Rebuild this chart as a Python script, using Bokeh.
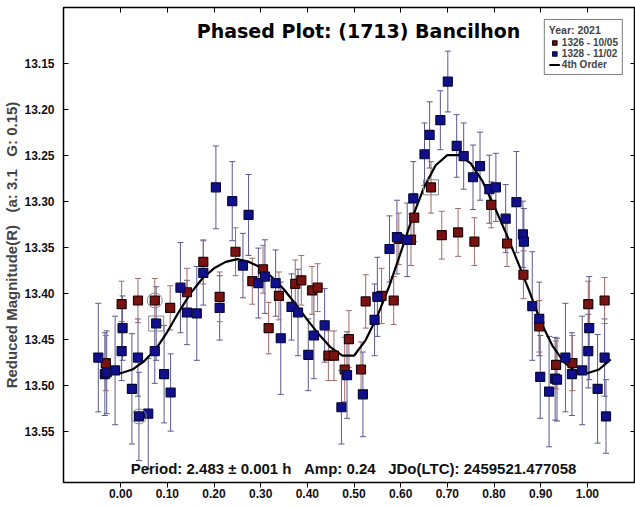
from bokeh.plotting import figure
from bokeh.models import (ColumnDataSource, Range1d, LinearAxis, FixedTicker, Whisker,
                          TeeHead, Label, Legend, LegendItem, NumeralTickFormatter)
from bokeh.embed import file_html
from bokeh.resources import INLINE

# ---- data ----
red_phase = [-0.032, 0.002, 0.037, 0.073, 0.106, 0.142, 0.177, 0.212, 0.246, 0.282,
             0.305, 0.317, 0.339, 0.374, 0.387, 0.410, 0.422, 0.445, 0.457, 0.480,
             0.489, 0.515, 0.525, 0.559, 0.585, 0.596, 0.622, 0.629, 0.665, 0.688,
             0.723, 0.758, 0.794, 0.828, 0.863, 0.897, 0.933, 0.968, 1.002, 1.037]
red_mag = [13.476, 13.412, 13.408, 13.408, 13.416, 13.399, 13.366, 13.404, 13.355, 13.387,
           13.374, 13.438, 13.403, 13.390, 13.386, 13.397, 13.394, 13.468, 13.468, 13.483,
           13.450, 13.483, 13.409, 13.403, 13.408, 13.341, 13.342, 13.318, 13.285, 13.337,
           13.334, 13.344, 13.304, 13.346, 13.380, 13.436, 13.478, 13.476, 13.412, 13.408]
red_err = [0.030, 0.025, 0.024, 0.024, 0.024, 0.026, 0.024, 0.027, 0.026, 0.025,
           0.026, 0.028, 0.026, 0.026, 0.027, 0.026, 0.026, 0.027, 0.027, 0.035,
           0.031, 0.030, 0.029, 0.030, 0.026, 0.028, 0.028, 0.026, 0.028, 0.026,
           0.026, 0.026, 0.025, 0.025, 0.026, 0.028, 0.026, 0.030, 0.025, 0.025]

blue_phase = [-0.048, -0.034, -0.030, -0.012, 0.002, 0.004, 0.024, 0.037, 0.039, 0.059,
              0.076, 0.073, 0.093, 0.107, 0.128, 0.142, 0.163, 0.177, 0.204, 0.212,
              0.239, 0.262, 0.274, 0.295, 0.309, 0.332, 0.343, 0.366, 0.380, 0.402,
              0.414, 0.437, 0.473, 0.485, 0.519, 0.544, 0.550, 0.576, 0.592, 0.614,
              0.627, 0.651, 0.662, 0.685, 0.701, 0.720, 0.735, 0.755, 0.770, 0.790,
              0.804, 0.825, 0.848, 0.862, 0.864, 0.882, 0.897, 0.899, 0.918, 0.931,
              0.935, 0.953, 0.967, 0.989, 1.004, 1.002, 1.022, 1.037, 1.040]
blue_mag = [13.470, 13.488, 13.486, 13.484, 13.463, 13.438, 13.504, 13.470, 13.534, 13.531,
            13.433, 13.463, 13.488, 13.508, 13.394, 13.421, 13.422, 13.378, 13.285, 13.416,
            13.300, 13.370, 13.315, 13.389, 13.382, 13.389, 13.449, 13.415, 13.421, 13.467,
            13.446, 13.435, 13.524, 13.489, 13.510, 13.429, 13.404, 13.352, 13.339, 13.342,
            13.297, 13.249, 13.228, 13.212, 13.170, 13.240, 13.251, 13.274, 13.262, 13.287,
            13.285, 13.319, 13.301, 13.336, 13.344, 13.414, 13.428, 13.491, 13.507, 13.493,
            13.494, 13.470, 13.488, 13.484, 13.438, 13.463, 13.504, 13.470, 13.534]
blue_err = [0.059, 0.045, 0.045, 0.059, 0.032, 0.035, 0.060, 0.042, 0.048, 0.060,
            0.040, 0.035, 0.053, 0.042, 0.049, 0.035, 0.051, 0.035, 0.045, 0.035,
            0.043, 0.035, 0.044, 0.038, 0.040, 0.036, 0.061, 0.036, 0.047, 0.039,
            0.047, 0.040, 0.040, 0.047, 0.046, 0.039, 0.043, 0.036, 0.040, 0.040,
            0.040, 0.034, 0.036, 0.032, 0.033, 0.034, 0.036, 0.035, 0.037, 0.037,
            0.037, 0.037, 0.055, 0.036, 0.036, 0.059, 0.040, 0.045, 0.060, 0.045,
            0.045, 0.059, 0.045, 0.059, 0.056, 0.040, 0.059, 0.042, 0.040]

# highlighted points (indices into the series)
red_circled = [3]
red_boxed = [28]
blue_circled = [8]
blue_boxed = [10]

fit_phase = [-0.02, 0.000, 0.025, 0.050, 0.075, 0.100, 0.125, 0.150, 0.175, 0.200,
             0.225, 0.250, 0.275, 0.300, 0.325, 0.350, 0.375, 0.400, 0.425, 0.450,
             0.475, 0.500, 0.525, 0.550, 0.575, 0.600, 0.625, 0.650, 0.675, 0.700,
             0.725, 0.750, 0.775, 0.800, 0.825, 0.850, 0.875, 0.900, 0.925, 0.950,
             0.975, 1.000, 1.025, 1.050]
fit_mag = [13.488, 13.487, 13.483, 13.474, 13.461, 13.442, 13.420, 13.400, 13.384, 13.373,
           13.366, 13.363, 13.366, 13.372, 13.383, 13.396, 13.412, 13.429, 13.445, 13.459,
           13.468, 13.468, 13.451, 13.425, 13.393, 13.356, 13.318, 13.285, 13.261, 13.250,
           13.250, 13.259, 13.278, 13.305, 13.334, 13.365, 13.397, 13.431, 13.457, 13.475,
           13.485, 13.487, 13.483, 13.472]

x_ticks = [0.0, 0.1, 0.2, 0.3, 0.4, 0.5, 0.6, 0.7, 0.8, 0.9, 1.0]
y_ticks = [13.15, 13.20, 13.25, 13.30, 13.35, 13.40, 13.45, 13.50, 13.55]

NB = "\u00a0"
title_text = "Phased Plot: (1713) Bancilhon"
info_text = "Period: 2.483 \u00b1 0.001 h" + NB * 3 + "Amp: 0.24" + NB * 3 + "JDo(LTC): 2459521.477058"
y_title = "Reduced Magnitude(R)" + NB * 3 + "(a: 3.1" + NB * 3 + "G: 0.15)"
legend_title = "Year: 2021"
red_label = "1326 - 10/05"
blue_label = "1328 - 11/02"
fit_label = "4th Order"

# ---- styling ----
FONT = "Liberation Sans"
RED_FILL, RED_LINE, RED_ERR = "#7a1212", "#1e0505", "#a06b6b"
BLUE_FILL, BLUE_LINE, BLUE_ERR = "#10108c", "#08083a", "#5a5a8e"

p = figure(width=635, height=506, output_backend="svg", toolbar_location=None,
           x_range=Range1d(-0.1226, 1.1032), y_range=Range1d(13.6058, 13.0895),
           min_border_left=63, min_border_right=0, min_border_top=7, min_border_bottom=24)
p.grid.visible = False
p.outline_line_color = "black"
p.outline_line_width = 1.5
p.background_fill_color = "white"
p.border_fill_color = "white"

# bottom axis
xa = p.xaxis[0]
xa.ticker = FixedTicker(ticks=x_ticks)
xa.formatter = NumeralTickFormatter(format="0.00")
xa.major_tick_in = 0
xa.major_tick_out = 5
xa.minor_tick_line_color = None
xa.major_label_standoff = 1
xa.axis_label_standoff = 0
xa.major_label_text_line_height = 1.0
xa.major_label_text_font = FONT
xa.major_label_text_font_style = "bold"
xa.major_label_text_font_size = "12px"
xa.major_label_text_color = "#111111"
xa.axis_line_color = "black"

# left axis
ya = p.yaxis[0]
ya.ticker = FixedTicker(ticks=y_ticks)
ya.formatter = NumeralTickFormatter(format="0.00")
ya.major_tick_in = 5
ya.major_tick_out = 0
ya.minor_tick_line_color = None
ya.major_label_standoff = 9
ya.major_label_text_font = FONT
ya.major_label_text_font_style = "bold"
ya.major_label_text_font_size = "12px"
ya.major_label_text_color = "#111111"
ya.axis_label = y_title
ya.axis_label_text_font = FONT
ya.axis_label_text_font_style = "bold"
ya.axis_label_text_font_size = "15px"
ya.axis_label_standoff = 1
ya.axis_line_color = "black"

# mirrored top / right ticks (inside, labels not drawn)
top = LinearAxis(ticker=FixedTicker(ticks=x_ticks), major_tick_in=5, major_tick_out=0,
                 minor_tick_line_color=None, major_label_text_font_size="1px",
                 major_label_text_color=None, major_label_standoff=0,
                 axis_label_standoff=0, axis_line_color=None)
right = LinearAxis(ticker=FixedTicker(ticks=y_ticks), major_tick_in=5, major_tick_out=0,
                   minor_tick_line_color=None, major_label_text_font_size="1px",
                   major_label_text_color=None, major_label_standoff=0,
                   axis_label_standoff=0, axis_line_color=None)
p.add_layout(top, "above")
p.add_layout(right, "right")

# error bars
red_src = ColumnDataSource(dict(x=red_phase, y=red_mag,
                                lo=[m - e for m, e in zip(red_mag, red_err)],
                                hi=[m + e for m, e in zip(red_mag, red_err)]))
blue_src = ColumnDataSource(dict(x=blue_phase, y=blue_mag,
                                 lo=[m - e for m, e in zip(blue_mag, blue_err)],
                                 hi=[m + e for m, e in zip(blue_mag, blue_err)]))
for src, col in ((blue_src, BLUE_ERR), (red_src, RED_ERR)):
    w = Whisker(source=src, base="x", lower="lo", upper="hi", dimension="height",
                line_color=col, line_width=1,
                lower_head=TeeHead(size=6, line_color=col, line_width=1),
                upper_head=TeeHead(size=6, line_color=col, line_width=1))
    p.add_layout(w)

# fit curve
fit_r = p.line(fit_phase, fit_mag, line_color="black", line_width=2.2)

# points
red_r = p.scatter("x", "y", source=red_src, marker="square", size=9,
                  fill_color=RED_FILL, line_color=RED_LINE, line_width=1.2)
blue_r = p.scatter("x", "y", source=blue_src, marker="square", size=9,
                   fill_color=BLUE_FILL, line_color=BLUE_LINE, line_width=1.2)

# highlight marks
p.scatter([red_phase[i] for i in red_circled], [red_mag[i] for i in red_circled],
          marker="circle", size=15, fill_color=None, line_color="#888888", line_width=1)
p.scatter([blue_phase[i] for i in blue_circled], [blue_mag[i] for i in blue_circled],
          marker="circle", size=15, fill_color=None, line_color="#888888", line_width=1)
p.scatter([red_phase[i] for i in red_boxed], [red_mag[i] for i in red_boxed],
          marker="square", size=15, fill_color=None, line_color="#888888", line_width=1)
p.scatter([blue_phase[i] for i in blue_boxed], [blue_mag[i] for i in blue_boxed],
          marker="square", size=15, fill_color=None, line_color="#888888", line_width=1)

# texts
p.add_layout(Label(x=0.5097, y=13.1155, text=title_text, text_align="center",
                   text_baseline="middle", text_font="DejaVu Sans", text_font_style="bold",
                   text_font_size="19px", text_color="black"))
p.add_layout(Label(x=0.4989, y=13.5905, text=info_text, text_align="center",
                   text_baseline="middle", text_font=FONT, text_font_style="bold",
                   text_font_size="15px", text_color="#111111"))

# legend
legend = Legend(items=[LegendItem(label=red_label, renderers=[red_r]),
                       LegendItem(label=blue_label, renderers=[blue_r]),
                       LegendItem(label=fit_label, renderers=[fit_r])],
                location="top_right", title=legend_title)
legend.title_text_font = FONT
legend.title_text_font_style = "bold"
legend.title_text_font_size = "10.5px"
legend.title_standoff = 1
legend.label_text_font = FONT
legend.label_text_font_style = "bold"
legend.label_text_font_size = "10px"
legend.label_height = 11
legend.glyph_height = 11
legend.glyph_width = 11
legend.label_standoff = 2
legend.spacing = 0
legend.padding = 4
legend.margin = 12
legend.border_line_color = "black"
legend.border_line_width = 1.5
legend.background_fill_alpha = 1.0
p.add_layout(legend)

open("out.html", "w").write(file_html(p, INLINE))
